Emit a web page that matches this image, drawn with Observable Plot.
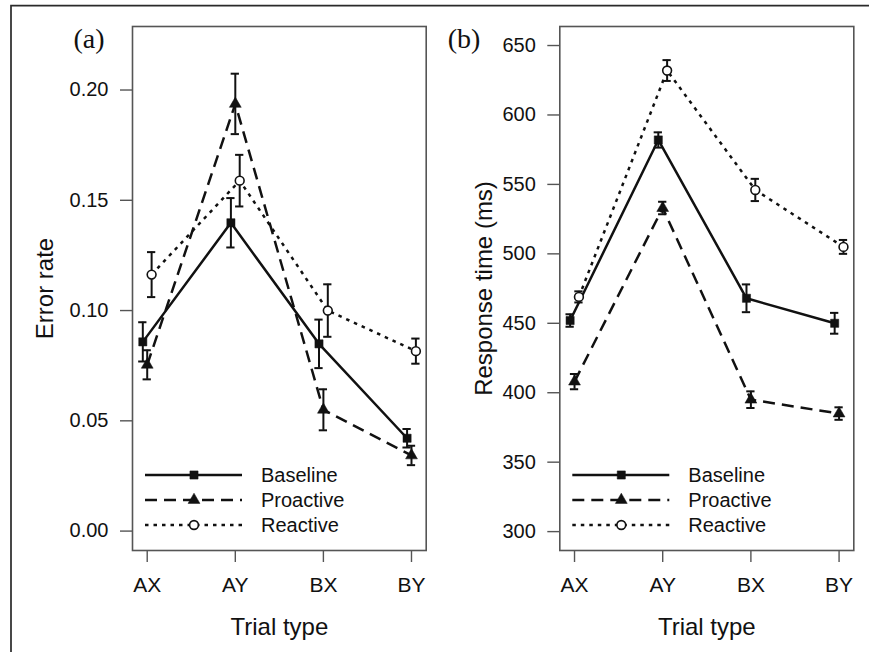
<!DOCTYPE html>
<html><head><meta charset="utf-8">
<script src="https://cdn.jsdelivr.net/npm/d3@7"></script>
<script src="https://cdn.jsdelivr.net/npm/@observablehq/plot@0.6"></script>
<style>
body{margin:0;background:#fff;}
#fig{position:relative;width:869px;height:652px;overflow:hidden;background:#fff;}
.panel{position:absolute;top:0;}
#overlay{position:absolute;left:0;top:0;pointer-events:none;}
</style></head>
<body><div id="fig"></div>
<script>
// ---- data ----
const trialTypes = ["AX", "AY", "BX", "BY"];
const conditions = ["Baseline", "Proactive", "Reactive"];

// (a) error rates
const errBaseline  = [0.0858, 0.1398, 0.0849, 0.0421];
const errProactive = [0.0754, 0.1937, 0.0550, 0.0343];
const errReactive  = [0.1163, 0.1589, 0.1000, 0.0816];
const errSeBaseline  = [0.0089, 0.0112, 0.0110, 0.0042];
const errSeProactive = [0.0066, 0.0137, 0.0093, 0.0044];
const errSeReactive  = [0.0102, 0.0117, 0.0119, 0.0057];
const errTicks = [0, 0.05, 0.10, 0.15, 0.20];

// (b) response times (ms)
const rtBaseline  = [452, 582, 468, 450];
const rtProactive = [408, 533, 395, 385];
const rtReactive  = [469, 632, 546, 505];
const rtSeBaseline  = [4.5, 5.5, 10, 7.5];
const rtSeProactive = [5.5, 4.5, 6, 4.5];
const rtSeReactive  = [4, 7.5, 8, 5];
const rtTicks = [300, 350, 400, 450, 500, 550, 600, 650];

// ---- styling ----
const ink = "#111";
const axisGray = "#555";
const sans = "'Liberation Sans', Arial, Helvetica, sans-serif";
const styles = {
  Baseline:  {dash: null,    symbol: "square",   fill: ink,    r: 4.6, dodge: -0.05, sw: 0.5},
  Proactive: {dash: "12,7",  symbol: "triangle", fill: ink,    r: 4.4, dodge: 0,     sw: 0.5},
  Reactive:  {dash: "3.5,5", symbol: "circle",   fill: "#fff", r: 4.4, dodge: 0.05,  sw: 1.6}
};
const capHalf = 0.047;

function buildRows(means, ses) {
  const rows = [];
  conditions.forEach((c, k) => {
    means[k].forEach((m, i) => {
      rows.push({cond: c, type: trialTypes[i], xp: i + 1 + styles[c].dodge, mean: m, se: ses[k][i]});
    });
  });
  return rows;
}

const errRows = buildRows([errBaseline, errProactive, errReactive], [errSeBaseline, errSeProactive, errSeReactive]);
const rtRows = buildRows([rtBaseline, rtProactive, rtReactive], [rtSeBaseline, rtSeProactive, rtSeReactive]);

function panel({rows, yDomain, yTicks, yFormat, yLabel, width, marginLeft, marginRight, yLabelOffset}) {
  const marks = [];
  for (const c of conditions) {
    const s = styles[c];
    marks.push(Plot.line(rows.filter(r => r.cond === c), {
      x: "xp", y: "mean", stroke: ink, strokeWidth: 2.5,
      strokeDasharray: s.dash, strokeLinecap: "butt", strokeLinejoin: "miter"
    }));
  }
  marks.push(Plot.ruleX(rows, {x: "xp", y1: d => d.mean - d.se, y2: d => d.mean + d.se, stroke: ink, strokeWidth: 2}));
  marks.push(Plot.ruleY(rows, {y: d => d.mean + d.se, x1: d => d.xp - capHalf, x2: d => d.xp + capHalf, stroke: ink, strokeWidth: 2}));
  marks.push(Plot.ruleY(rows, {y: d => d.mean - d.se, x1: d => d.xp - capHalf, x2: d => d.xp + capHalf, stroke: ink, strokeWidth: 2}));
  for (const c of conditions) {
    const s = styles[c];
    marks.push(Plot.dot(rows.filter(r => r.cond === c), {
      x: "xp", y: "mean", symbol: s.symbol, r: s.r, fill: s.fill, stroke: ink, strokeWidth: s.sw
    }));
  }
  marks.push(Plot.frame({stroke: axisGray, strokeWidth: 1.6}));
  marks.push(Plot.axisY({ticks: yTicks, tickFormat: yFormat, tickSize: 12, tickPadding: 12,
    fontSize: 20, stroke: axisGray, strokeWidth: 1.4, label: null}));
  marks.push(Plot.axisY({ticks: [], tickSize: 0, label: yLabel, labelAnchor: "center",
    labelArrow: "none", labelOffset: yLabelOffset, fontSize: 24}));
  marks.push(Plot.axisX({ticks: [1, 2, 3, 4], tickFormat: i => trialTypes[i - 1], tickSize: 12, tickPadding: 15,
    fontSize: 21, stroke: axisGray, strokeWidth: 1.4, label: null}));
  marks.push(Plot.axisX({ticks: [], tickSize: 0, label: "Trial type", labelAnchor: "center",
    labelArrow: "none", labelOffset: 84, fontSize: 24}));
  return Plot.plot({
    width, height: 652,
    marginLeft, marginRight, marginTop: 26, marginBottom: 102,
    x: {type: "linear", domain: [0.833, 4.167]},
    y: {type: "linear", domain: yDomain},
    style: {background: "transparent", fontFamily: sans, color: ink, overflow: "visible"},
    marks
  });
}

const fig = document.getElementById("fig");

const pa = panel({rows: errRows, yDomain: [-0.0088, 0.2288], yTicks: errTicks, yFormat: d3.format(".2f"),
  yLabel: "Error rate", width: 440, marginLeft: 132, marginRight: 14.3, yLabelOffset: 97});
pa.classList.add("panel"); pa.style.left = "0px";
fig.appendChild(pa);

const pb = panel({rows: rtRows, yDomain: [286.4, 663.7], yTicks: rtTicks, yFormat: d3.format("d"),
  yLabel: "Response time (ms)", width: 429, marginLeft: 119.3, marginRight: 15.7, yLabelOffset: 85});
pb.classList.add("panel"); pb.style.left = "440px";
fig.appendChild(pb);

// ---- overlay: outer frame, panel tags, legends ----
const svg = d3.select(fig).append("svg").attr("id", "overlay").attr("width", 869).attr("height", 652);
svg.append("path").attr("d", "M11,700V5.7H900").attr("fill", "none").attr("stroke", "#2a2a2a").attr("stroke-width", 1.7);

const tags = [{t: "(a)", x: 89}, {t: "(b)", x: 464}];
svg.selectAll("text.tag").data(tags).join("text").attr("class", "tag")
  .attr("x", d => d.x).attr("y", 48).attr("text-anchor", "middle")
  .attr("font-family", "'Liberation Serif', 'Times New Roman', serif").attr("font-size", 28).attr("fill", ink)
  .text(d => d.t);

const symbolFor = {square: d3.symbolSquare, triangle: d3.symbolTriangle, circle: d3.symbolCircle};
function legend(boxLeft) {
  const g = svg.append("g").attr("transform", `translate(${boxLeft},0)`);
  conditions.forEach((c, k) => {
    const s = styles[c];
    const y = 475 + 25 * k;
    g.append("line").attr("x1", 13).attr("x2", 110).attr("y1", y).attr("y2", y)
      .attr("stroke", ink).attr("stroke-width", 2.5).attr("stroke-dasharray", s.dash);
    g.append("path").attr("transform", `translate(62,${y})`)
      .attr("d", d3.symbol(symbolFor[s.symbol], Math.PI * s.r * s.r)())
      .attr("fill", s.fill).attr("stroke", ink).attr("stroke-width", s.sw);
    g.append("text").attr("x", 129).attr("y", y + 7).attr("font-family", sans).attr("font-size", 20)
      .attr("fill", ink).text(c);
  });
}
legend(132);
legend(559.3);
</script>
</body></html>
